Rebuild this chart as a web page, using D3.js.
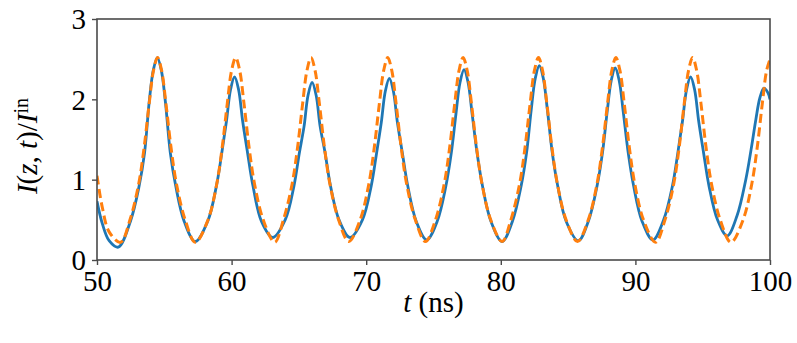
<!DOCTYPE html>
<html>
<head>
<meta charset="utf-8">
<script src="https://cdn.jsdelivr.net/npm/d3@7"></script>
<style>
  body { margin: 0; background: #fff; }
  svg text { font-family: "Liberation Serif", "Times New Roman", serif; }
</style>
</head>
<body>
<div id="chart"></div>
<script>
// Intensity traces (time in ns, normalized intensity)
const blueTime = [
  50, 50.4, 50.9, 51.58,
  52.48, 53.13, 53.53, 53.88, 54.18, 54.48, 54.78, 55.08, 55.45, 55.85, 56.48, 57.3,
  58.22, 58.87, 59.27, 59.62, 59.92, 60.22, 60.52, 60.82, 61.19, 61.59, 62.22, 63.05,
  63.98, 64.63, 65.03, 65.38, 65.68, 65.98, 66.28, 66.58, 66.95, 67.35, 67.98, 68.8,
  69.72, 70.37, 70.77, 71.12, 71.42, 71.72, 72.02, 72.32, 72.69, 73.09, 73.72, 74.5,
  75.27, 75.92, 76.32, 76.67, 76.97, 77.27, 77.57, 77.87, 78.24, 78.64, 79.27, 80.1,
  80.86, 81.51, 81.91, 82.26, 82.56, 82.86, 83.16, 83.46, 83.83, 84.23, 84.86, 85.76,
  86.5, 87.15, 87.55, 87.9, 88.2, 88.5, 88.8, 89.1, 89.47, 89.87, 90.5, 91.3,
  92.1, 92.75, 93.15, 93.5, 93.8, 94.1, 94.4, 94.7, 95.07, 95.47, 96.1, 96.82,
  97.55, 98.2, 98.6, 98.95, 99.25, 99.55, 99.85, 100
];
const blueI = [
  0.73, 0.45, 0.24, 0.16,
  0.48, 0.92, 1.33, 1.97, 2.36, 2.52, 2.36, 1.97, 1.33, 0.92, 0.48, 0.23,
  0.48, 0.92, 1.33, 1.73, 2.12, 2.28, 2.12, 1.73, 1.33, 0.92, 0.48, 0.28,
  0.5, 0.92, 1.33, 1.66, 2.05, 2.21, 2.05, 1.66, 1.33, 0.92, 0.5, 0.28,
  0.5, 0.92, 1.33, 1.71, 2.1, 2.26, 2.1, 1.71, 1.33, 0.92, 0.48, 0.25,
  0.48, 0.92, 1.33, 1.82, 2.21, 2.37, 2.21, 1.82, 1.33, 0.92, 0.48, 0.23,
  0.48, 0.92, 1.33, 1.87, 2.26, 2.42, 2.26, 1.87, 1.33, 0.92, 0.48, 0.24,
  0.48, 0.92, 1.33, 1.84, 2.23, 2.39, 2.23, 1.84, 1.33, 0.92, 0.48, 0.25,
  0.5, 0.92, 1.33, 1.73, 2.12, 2.28, 2.12, 1.73, 1.33, 0.92, 0.5, 0.3,
  0.55, 1.0, 1.38, 1.75, 2.02, 2.14, 2.08, 2.0
];

const orangeTime = [
  50, 50.4, 50.9, 51.75,
  52.45, 53.1, 53.5, 53.88, 54.2, 54.5, 54.8, 55.12, 55.5, 55.9, 56.55, 57.3,
  58.25, 58.9, 59.3, 59.68, 60.0, 60.3, 60.6, 60.92, 61.3, 61.7, 62.35, 63.2,
  63.85, 64.5, 64.9, 65.28, 65.6, 65.9, 66.2, 66.52, 66.9, 67.3, 67.95, 68.7,
  69.55, 70.2, 70.6, 70.98, 71.3, 71.6, 71.9, 72.22, 72.6, 73.0, 73.65, 74.4,
  75.15, 75.8, 76.2, 76.58, 76.9, 77.2, 77.5, 77.82, 78.2, 78.6, 79.25, 80.1,
  80.75, 81.4, 81.8, 82.18, 82.5, 82.8, 83.1, 83.42, 83.8, 84.2, 84.85, 85.7,
  86.5, 87.15, 87.55, 87.93, 88.25, 88.55, 88.85, 89.17, 89.55, 89.95, 90.6, 91.5,
  92.2, 92.85, 93.25, 93.63, 93.95, 94.25, 94.55, 94.87, 95.25, 95.65, 96.3, 97.1,
  98.0, 98.65, 99.05, 99.43, 99.75, 100
];
const orangeI = [
  1.05, 0.65, 0.35, 0.22,
  0.5, 0.95, 1.4, 1.95, 2.36, 2.52, 2.36, 1.95, 1.4, 0.95, 0.5, 0.22,
  0.5, 0.95, 1.4, 1.95, 2.36, 2.52, 2.36, 1.95, 1.4, 0.95, 0.5, 0.22,
  0.5, 0.95, 1.4, 1.95, 2.36, 2.52, 2.36, 1.95, 1.4, 0.95, 0.5, 0.23,
  0.5, 0.95, 1.4, 1.95, 2.36, 2.52, 2.36, 1.95, 1.4, 0.95, 0.5, 0.23,
  0.5, 0.95, 1.4, 1.95, 2.36, 2.52, 2.36, 1.95, 1.4, 0.95, 0.5, 0.23,
  0.5, 0.95, 1.4, 1.95, 2.36, 2.52, 2.36, 1.95, 1.4, 0.95, 0.5, 0.23,
  0.5, 0.95, 1.4, 1.95, 2.36, 2.52, 2.36, 1.95, 1.4, 0.95, 0.5, 0.22,
  0.5, 0.95, 1.4, 1.95, 2.36, 2.52, 2.36, 1.95, 1.4, 0.95, 0.5, 0.22,
  0.5, 0.95, 1.4, 1.95, 2.36, 2.5
];

const xTicks = [50, 60, 70, 80, 90, 100];
const yTicks = [0, 1, 2, 3];

// Layout
const W = 797, H = 343;
const margin = { top: 19, right: 27, bottom: 83, left: 97 };
const width = W - margin.left - margin.right;
const height = H - margin.top - margin.bottom;

const svg = d3.select("#chart").append("svg")
  .attr("width", W)
  .attr("height", H);

const g = svg.append("g")
  .attr("transform", `translate(${margin.left},${margin.top})`);

const x = d3.scaleLinear().domain([50, 100]).range([0, width]);
const y = d3.scaleLinear().domain([0, 3]).range([height, 0]);

g.append("clipPath").attr("id", "plot-clip")
  .append("rect")
  .attr("width", width)
  .attr("height", height);

const line = d3.line()
  .x(d => x(d[0]))
  .y(d => y(d[1]))
  .curve(d3.curveCatmullRom.alpha(0.5));

const blue = blueTime.map((t, i) => [t, blueI[i]]);
const orange = orangeTime.map((t, i) => [t, orangeI[i]]);

g.append("path")
  .datum(blue)
  .attr("clip-path", "url(#plot-clip)")
  .attr("fill", "none")
  .attr("stroke", "#1f77b4")
  .attr("stroke-width", 2.8)
  .attr("d", line);

g.append("path")
  .datum(orange)
  .attr("clip-path", "url(#plot-clip)")
  .attr("fill", "none")
  .attr("stroke", "#ff7f0e")
  .attr("stroke-width", 3)
  .attr("stroke-dasharray", "9,4.5")
  .attr("d", line);

// Axes
const fontSize = "29px";
const axisColor = "#4a4a4a";

const xAxis = g.append("g")
  .attr("transform", `translate(0,${height})`)
  .call(d3.axisBottom(x).tickValues(xTicks).tickFormat(d3.format("d"))
    .tickSize(5).tickSizeOuter(0).tickPadding(5));

const yAxis = g.append("g")
  .call(d3.axisLeft(y).tickValues(yTicks).tickFormat(d3.format("d"))
    .tickSize(5).tickSizeOuter(0).tickPadding(6));

[xAxis, yAxis].forEach(a => {
  a.select(".domain").remove();
  a.selectAll(".tick line").attr("stroke", axisColor).attr("stroke-width", 1.4);
  a.selectAll(".tick text")
    .attr("fill", "#000")
    .style("font-size", fontSize)
    .style("font-family", "'Liberation Serif', serif");
});
yAxis.selectAll(".tick text").attr("dy", "0.34em");

// Frame
g.append("rect")
  .attr("width", width)
  .attr("height", height)
  .attr("fill", "none")
  .attr("stroke", axisColor)
  .attr("stroke-width", 1.6);

// X label
const xl = svg.append("text")
  .attr("x", margin.left + width / 2)
  .attr("y", 312)
  .attr("text-anchor", "middle")
  .style("font-size", fontSize);
xl.append("tspan").style("font-style", "italic").text("t");
xl.append("tspan").text(" (ns)");

// Y label
const yl = svg.append("text")
  .attr("transform", `translate(37,${146}) rotate(-90)`)
  .attr("text-anchor", "middle")
  .style("font-size", fontSize);
yl.append("tspan").style("font-style", "italic").text("I");
yl.append("tspan").text("(");
yl.append("tspan").style("font-style", "italic").text("z");
yl.append("tspan").text(", ");
yl.append("tspan").style("font-style", "italic").text("t");
yl.append("tspan").text(")/");
yl.append("tspan").style("font-style", "italic").text("I");
yl.append("tspan").attr("dy", "-0.45em").style("font-size", "20px").text("in");
</script>
</body>
</html>
